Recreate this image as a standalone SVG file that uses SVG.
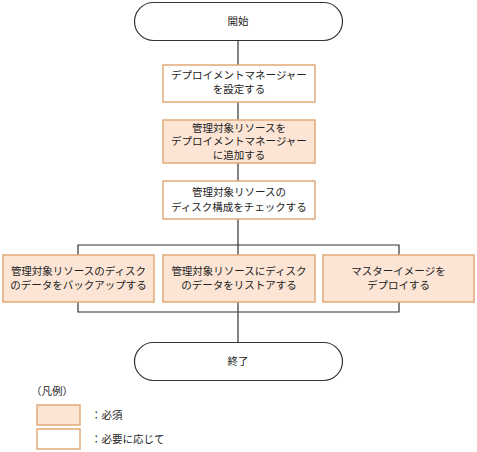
<svg xmlns="http://www.w3.org/2000/svg" width="477" height="452" viewBox="0 0 477 452">
<style>
.t{font-family:"Noto Sans CJK JP","Liberation Sans",sans-serif;font-size:10.5px;fill:#222;text-anchor:middle}
.tl{font-family:"Noto Sans CJK JP","Liberation Sans",sans-serif;font-size:10.5px;fill:#222}
.term{fill:#fff;stroke:#333;stroke-width:1.2}
.req{fill:#fce5d5;stroke:#e2aa7a;stroke-width:1.5}
.opt{fill:#fff;stroke:#e2aa7a;stroke-width:1.5}
.ln{fill:none;stroke:#333;stroke-width:1.2}
</style>
<rect width="477" height="452" fill="#fff"/>
<g id="connectors">
<line class="ln" x1="238" y1="40" x2="238" y2="65"/>
<line class="ln" x1="238" y1="102" x2="238" y2="120"/>
<line class="ln" x1="238" y1="163" x2="238" y2="181"/>
<line class="ln" x1="238" y1="219" x2="238" y2="255"/>
<polyline class="ln" points="78,255 78,245 399,245 399,255"/>
<polyline class="ln" points="78,302 78,312 399,312 399,302"/>
<line class="ln" x1="238" y1="302" x2="238" y2="342"/>
</g>
<g id="start">
<rect class="term" x="134.5" y="2.5" width="208" height="38" rx="19"/>
<text class="t" x="238" y="25">開始</text>
</g>
<g id="n1">
<rect class="opt" x="163" y="65" width="152" height="37"/>
<text class="t" x="239" y="79">デプロイメントマネージャー</text>
<text class="t" x="239" y="93">を設定する</text>
</g>
<g id="n2">
<rect class="req" x="163" y="120" width="152" height="43"/>
<text class="t" x="239" y="131.5">管理対象リソースを</text>
<text class="t" x="239" y="145">デプロイメントマネージャー</text>
<text class="t" x="239" y="158.5">に追加する</text>
</g>
<g id="n3">
<rect class="opt" x="163" y="181" width="152" height="38"/>
<text class="t" x="239" y="196">管理対象リソースの</text>
<text class="t" x="239" y="211">ディスク構成をチェックする</text>
</g>
<g id="n4">
<rect class="req" x="3" y="255" width="151" height="47"/>
<text class="t" x="78.5" y="275">管理対象リソースのディスク</text>
<text class="t" x="78.5" y="288.5">のデータをバックアップする</text>
</g>
<g id="n5">
<rect class="req" x="163" y="255" width="152" height="47"/>
<text class="t" x="239" y="275">管理対象リソースにディスク</text>
<text class="t" x="239" y="288.5">のデータをリストアする</text>
</g>
<g id="n6">
<rect class="req" x="323" y="255" width="151" height="47"/>
<text class="t" x="398.5" y="275">マスターイメージを</text>
<text class="t" x="398.5" y="288.5">デプロイする</text>
</g>
<g id="end">
<rect class="term" x="134.5" y="342.5" width="208" height="38" rx="19"/>
<text class="t" x="238" y="365">終了</text>
</g>
<g id="legend">
<text class="tl" x="31" y="395">（凡例）</text>
<rect class="req" x="37" y="405" width="43" height="20"/>
<rect class="opt" x="37" y="429" width="43" height="20"/>
<text class="tl" x="91" y="419">：必須</text>
<text class="tl" x="91" y="443">：必要に応じて</text>
</g>
</svg>
